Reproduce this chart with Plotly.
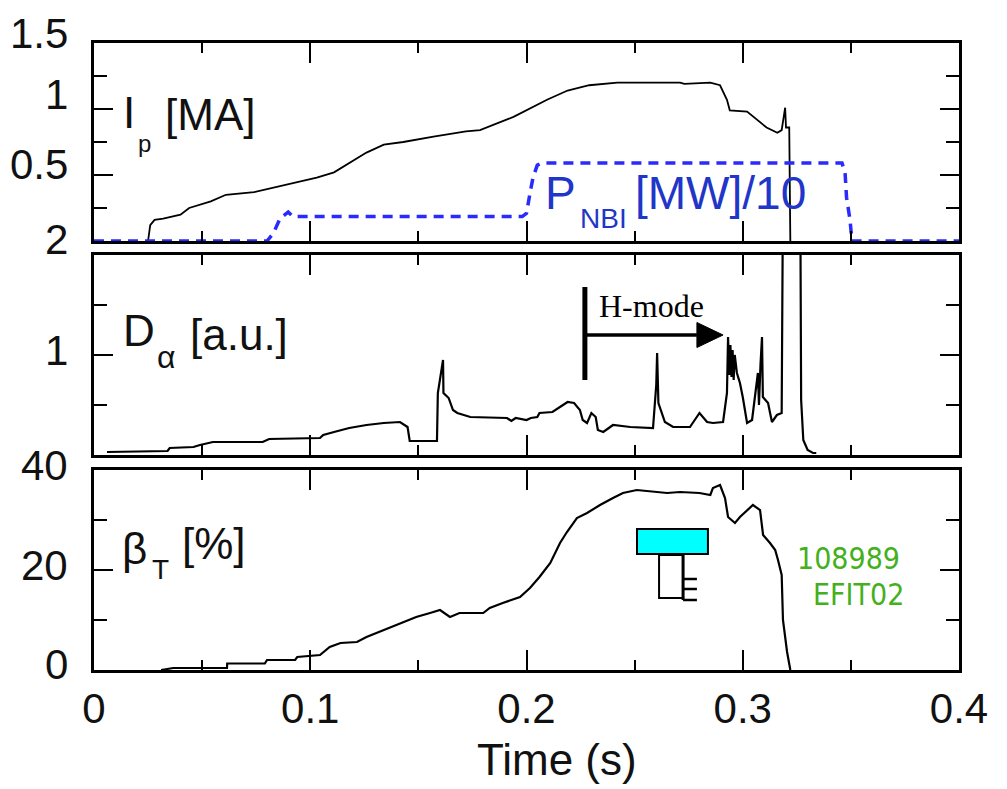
import plotly.graph_objects as go

# ---------------- data ----------------
# Plasma current Ip [MA]
t_ip = [0.025, 0.026, 0.028, 0.032, 0.040, 0.044, 0.054, 0.061, 0.074, 0.085, 0.095, 0.103,
        0.111, 0.118, 0.126, 0.134, 0.143, 0.157, 0.172, 0.1785, 0.188, 0.194, 0.2095, 0.219,
        0.229, 0.242, 0.271, 0.273, 0.285, 0.2895, 0.2927, 0.294, 0.302, 0.305, 0.311, 0.316,
        0.318, 0.3196, 0.3200, 0.3215, 0.322]
ip = [0.0, 0.12, 0.16, 0.17, 0.20, 0.25, 0.30, 0.35, 0.37, 0.41, 0.45, 0.48,
      0.52, 0.59, 0.67, 0.73, 0.75, 0.79, 0.83, 0.84, 0.90, 0.94, 1.07, 1.14,
      1.18, 1.20, 1.20, 1.19, 1.20, 1.18, 1.07, 0.99, 0.98, 0.94, 0.86, 0.82,
      0.84, 1.01, 0.86, 0.86, 0.0]

# Neutral beam power [MW] (plotted /10)
t_nbi = [0.0, 0.080, 0.083, 0.086, 0.0898, 0.092, 0.198, 0.200, 0.2016, 0.203, 0.205, 0.207,
         0.3459, 0.3473, 0.348, 0.3496, 0.3505, 0.4]
p_nbi = [0.0, 0.0, 0.6, 1.7, 2.2, 1.85, 1.85, 2.1, 3.6, 4.8, 5.75, 5.9,
         5.9, 5.2, 3.3, 1.6, 0.0, 0.0]

# D-alpha [a.u.]
t_da = [0.006, 0.034, 0.035, 0.046, 0.049, 0.055, 0.078, 0.081, 0.1045, 0.106, 0.111, 0.118,
        0.126, 0.134, 0.1415, 0.145, 0.146, 0.1586, 0.159, 0.1614, 0.1616, 0.164, 0.166, 0.168,
        0.174, 0.188, 0.191, 0.193, 0.195, 0.200, 0.202, 0.205, 0.206, 0.212, 0.2155, 0.219,
        0.222, 0.2247, 0.226, 0.228, 0.230, 0.232, 0.233, 0.2355, 0.240, 0.248, 0.2585, 0.2600,
        0.2604, 0.2610, 0.264, 0.2678, 0.2756, 0.280, 0.2835, 0.2862, 0.2909, 0.2927, 0.2932,
        0.2938, 0.2943, 0.2948, 0.2953, 0.2958, 0.2963, 0.2973, 0.2987, 0.300, 0.302, 0.3043,
        0.307, 0.3075, 0.3082, 0.3089, 0.3093, 0.3117, 0.3135, 0.3158, 0.318, 0.3186, 0.3266,
        0.3268, 0.327, 0.328, 0.330, 0.3325, 0.334]
d_alpha = [0.03, 0.04, 0.07, 0.08, 0.10, 0.13, 0.13, 0.16, 0.17, 0.20, 0.23, 0.27,
           0.30, 0.32, 0.33, 0.28, 0.14, 0.14, 0.62, 0.95, 0.62, 0.57, 0.45, 0.42,
           0.38, 0.37, 0.37, 0.34, 0.37, 0.35, 0.37, 0.38, 0.42, 0.43, 0.48, 0.53,
           0.52, 0.45, 0.35, 0.32, 0.42, 0.38, 0.25, 0.23, 0.30, 0.28, 0.27, 0.70,
           1.02, 0.52, 0.33, 0.28, 0.28, 0.42, 0.33, 0.32, 0.33, 0.62, 1.18,
           0.80, 1.10, 0.78, 1.05, 0.75, 1.00, 0.82, 0.72, 0.58, 0.32, 0.35,
           0.82, 0.50, 0.90, 1.18, 0.58, 0.52, 0.33, 0.40, 0.42, 2.6, 2.6,
           0.58, 0.55, 0.15, 0.05, 0.02, 0.02]

# Toroidal beta [%]
t_beta = [0.031, 0.0366, 0.0615, 0.0616, 0.079, 0.080, 0.093, 0.094, 0.1045, 0.107, 0.109,
          0.114, 0.1216, 0.126, 0.134, 0.1415, 0.149, 0.1554, 0.160, 0.1646, 0.169, 0.180,
          0.183, 0.189, 0.197, 0.2016, 0.206, 0.211, 0.2155, 0.2187, 0.2233, 0.228, 0.234,
          0.240, 0.2446, 0.251, 0.265, 0.271, 0.280, 0.285, 0.2862, 0.2895, 0.2918, 0.2932,
          0.2964, 0.2987, 0.302, 0.3047, 0.308, 0.3094, 0.3126, 0.315, 0.3163, 0.318, 0.3186,
          0.3205, 0.322]
beta_t = [0.0, 0.4, 0.4, 1.3, 1.3, 2.0, 2.0, 2.6, 3.0, 4.0, 4.6,
          5.4, 5.6, 6.6, 8.0, 9.4, 10.6, 11.4, 12.0, 10.6, 11.4, 11.4,
          12.4, 13.4, 14.6, 16.4, 18.6, 21.4, 25.4, 27.6, 30.4, 31.4, 33.0,
          34.4, 35.4, 36.0, 35.4, 35.6, 35.4, 35.0, 36.4, 37.0, 34.4, 30.6,
          29.4, 30.6, 32.0, 33.0, 32.0, 27.0, 25.4, 24.0, 22.0, 19.0, 10.0,
          3.6, 0.0]

# axis ticks / labels
x_tickvals = [0, 0.1, 0.2, 0.3, 0.4]
x_ticktext = ["0", "0.1", "0.2", "0.3", "0.4"]
y1_labels = [(0.5, "0.5", 11), (1.0, "1", 15), (1.5, "1.5", 10)]
y2_labels = [(1.0, "1", 5), (2.0, "2", 15)]
y3_labels = [(0, "0", 6), (20, "20", 5), (40, "40", 5)]

# H-mode marker (time, D-alpha levels)
hmode_t = 0.227
hmode_bar = [0.75, 1.68]
hmode_arrow = [0.2275, 0.2788, 0.2909, 1.2, 0.125]  # x start, head base, tip, y, half height
# EFIT time-window glyph in beta panel
cyan_box = [0.2511, 0.2839, 23.2, 28.2]
open_box = [0.2613, 0.2724, 14.4, 23.0]
e_ticks = [18.2, 16.2, 14.0]
e_tick_end = 0.2788

# ---------------- layout geometry (window pixels) ----------------
W, H = 1007, 789
OFF = 8  # page body margin
L, R, T, B = 94, 959, 43, 670


def px_x(px):
    return (px - L) / (R - L)


def px_y(py):
    return (B - py) / (B - T)


dom1 = [px_y(241), 1.0]
dom2 = [px_y(455), px_y(255)]
dom3 = [0.0, px_y(470)]

FONT = "Liberation Sans, Arial, Helvetica, sans-serif"
INK = "#111111"

fig = go.Figure()
fig.add_trace(go.Scatter(x=t_ip, y=ip, mode="lines", line=dict(color="black", width=1.8),
                         xaxis="x", yaxis="y", showlegend=False))
fig.add_trace(go.Scatter(x=t_nbi, y=[p / 10 for p in p_nbi], mode="lines",
                         line=dict(color="#2a2aff", width=3.5, dash="10px,7px"),
                         xaxis="x", yaxis="y", showlegend=False))
fig.add_trace(go.Scatter(x=t_da, y=d_alpha, mode="lines", line=dict(color="black", width=2.2),
                         xaxis="x2", yaxis="y2", showlegend=False))
fig.add_trace(go.Scatter(x=t_beta, y=beta_t, mode="lines", line=dict(color="black", width=2.2),
                         xaxis="x3", yaxis="y3", showlegend=False))


def xax(anchor, labels):
    return dict(domain=[0, 1], anchor=anchor, range=[0, 0.4], tickvals=x_tickvals,
                ticktext=x_ticktext, showticklabels=labels, ticks="inside", ticklen=20,
                tickwidth=2, tickcolor="black", showline=True, linecolor="black", linewidth=2.5,
                mirror="ticks", showgrid=False, zeroline=False,
                minor=dict(dtick=0.05, ticks="inside", ticklen=10, tickwidth=2,
                           tickcolor="black", showgrid=False),
                tickfont=dict(family=FONT, size=42, color=INK), layer="above traces")


def yax(anchor, dom, rng, dtick, mdtick):
    return dict(domain=dom, anchor=anchor, range=rng, dtick=dtick, tick0=0,
                showticklabels=False, ticks="inside", ticklen=19, tickwidth=2, tickcolor="black",
                showline=True, linecolor="black", linewidth=2.5, mirror="ticks",
                showgrid=False, zeroline=False,
                minor=dict(dtick=mdtick, ticks="inside", ticklen=13, tickwidth=2,
                           tickcolor="black", showgrid=False), layer="above traces")


annotations = []
for ref, labels in (("y", y1_labels), ("y2", y2_labels), ("y3", y3_labels)):
    for val, txt, shift in labels:
        annotations.append(dict(x=px_x(70), y=val, xref="paper", yref=ref, text=txt,
                                showarrow=False, xanchor="right", yanchor="middle",
                                yshift=shift, font=dict(family=FONT, size=42, color=INK)))


def lab(px, py, text, size, color=INK, family=FONT):
    annotations.append(dict(x=px_x(px), y=px_y(py), xref="paper", yref="paper", text=text,
                            showarrow=False, xanchor="left", yanchor="middle",
                            font=dict(family=family, size=size, color=color)))


# panel labels
lab(121, 112, "I", 44)
lab(136, 143, "p", 24)
lab(163, 114, "[MA]", 44)
lab(543, 193, "P", 46, "#1f36c8")
lab(578, 218, "NBI", 28, "#1f36c8")
lab(633, 193, "[MW]/10", 46, "#1f36c8")
lab(121, 331, "D", 44)
lab(155, 357, "α", 32)
lab(188, 334, "[a.u.]", 44)
lab(120, 548, "β", 44)
lab(150, 569, "T", 28)
lab(180, 543, "[%]", 44)
lab(597, 306, "H-mode", 32, "black", "Liberation Serif, Times New Roman, serif")
GREEN_FONT = "DejaVu Sans Condensed, Liberation Sans Narrow, Arial Narrow, sans-serif"
lab(795, 558, "108989", 30, "#44b01c", GREEN_FONT)
lab(811, 594, "EFIT02", 30, "#44b01c", GREEN_FONT)
annotations.append(dict(x=px_x(557), y=px_y(759), xref="paper", yref="paper", text="Time (s)",
                        showarrow=False, xanchor="center", yanchor="middle",
                        font=dict(family=FONT, size=44, color=INK)))

x0, xb, xt, ya, hh = hmode_arrow
shapes = [
    dict(type="line", xref="x2", yref="y2", x0=hmode_t, x1=hmode_t, y0=hmode_bar[0],
         y1=hmode_bar[1], line=dict(color="black", width=5)),
    dict(type="line", xref="x2", yref="y2", x0=x0, x1=xb, y0=ya, y1=ya,
         line=dict(color="black", width=3.5)),
    dict(type="path", xref="x2", yref="y2",
         path=f"M {xb},{ya - hh} L {xt},{ya} L {xb},{ya + hh} Z",
         fillcolor="black", line=dict(color="black", width=1)),
    dict(type="rect", xref="x3", yref="y3", x0=cyan_box[0], x1=cyan_box[1], y0=cyan_box[2],
         y1=cyan_box[3], fillcolor="#00ffff", line=dict(color="black", width=2)),
    dict(type="rect", xref="x3", yref="y3", x0=open_box[0], x1=open_box[1], y0=open_box[2],
         y1=open_box[3], fillcolor="rgba(0,0,0,0)", line=dict(color="black", width=2)),
    dict(type="line", xref="x3", yref="y3", x0=open_box[1], x1=open_box[1], y0=open_box[2] - 0.4,
         y1=open_box[3], line=dict(color="black", width=3)),
]
for ey in e_ticks:
    shapes.append(dict(type="line", xref="x3", yref="y3", x0=open_box[1], x1=e_tick_end,
                       y0=ey, y1=ey, line=dict(color="black", width=2.5)))

fig.update_layout(
    width=W, height=H,
    margin=dict(l=L - OFF, r=W - R + OFF, t=T - OFF, b=H - B + OFF, pad=0),
    paper_bgcolor="white", plot_bgcolor="white", showlegend=False,
    xaxis=xax("y", False), xaxis2=xax("y2", False), xaxis3=xax("y3", True),
    yaxis=yax("x", dom1, [0, 1.5], 0.5, 0.25),
    yaxis2=yax("x2", dom2, [0, 2], 1, 0.5),
    yaxis3=yax("x3", dom3, [0, 40], 20, 10),
    annotations=annotations, shapes=shapes,
)
fig.update_layout(xaxis2=dict(matches="x"), xaxis3=dict(matches="x"))

fig.write_html("out.html")
